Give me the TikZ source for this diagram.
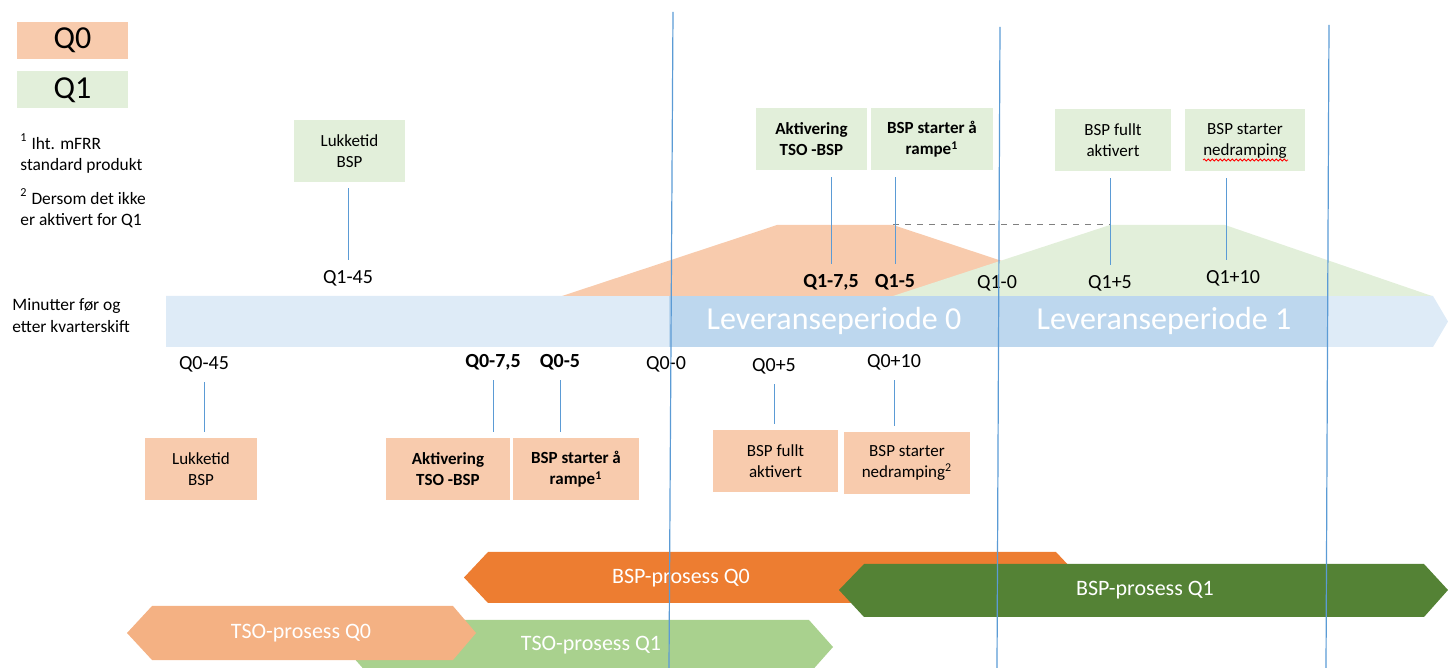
\documentclass[tikz,border=0pt]{standalone}
\usepackage{fontspec}
\setmainfont{Carlito}
\usepackage{tikz}
\usetikzlibrary{calc, decorations.pathmorphing}
\definecolor{qnull}{HTML}{F8CBAD}
\definecolor{qen}{HTML}{E2EFDA}
\definecolor{barlight}{HTML}{DEEBF7}
\definecolor{bardark}{HTML}{BDD7EE}
\definecolor{tickblue}{HTML}{5B9BD5}
\definecolor{bspnull}{HTML}{ED7D31}
\definecolor{bspen}{HTML}{548235}
\definecolor{tsonull}{HTML}{F4B183}
\definecolor{tsoen}{HTML}{A9D18E}

\begin{document}
\begin{tikzpicture}[x=0.5pt, y=-0.5pt,
    evt/.style={inner sep=0pt, align=center, minimum height=31pt,
        font=\fontsize{8.5}{10.5}\selectfont},
    evtnull/.style={evt, fill=qnull},
    evten/.style={evt, fill=qen},
    qlab/.style={inner sep=0pt, font=\fontsize{10}{12}\selectfont},
    note/.style={inner sep=0pt, align=left, anchor=west,
        font=\fontsize{8.7}{10.6}\selectfont},
    legend/.style={inner sep=0pt, minimum width=55.5pt, minimum height=18.5pt,
        font=\fontsize{16}{19}\selectfont},
    per/.style={inner sep=0pt, text=white, font=\fontsize{16}{19}\selectfont},
    proc/.style={inner sep=0pt, text=white, font=\fontsize{11}{13}\selectfont},
    tick/.style={draw=tickblue, line width=0.5pt, shorten <=5pt, shorten >=3pt},
    vline/.style={draw=tickblue, line width=0.6pt}]
    \useasboundingbox (0,0) rectangle (1448,668);

    \node[legend, fill=qnull] (legq0) at (72.5,40.5) {Q0};
    \node[legend, fill=qen] (legq1) at (72.5,90) {Q1};
    \node[note] (fn1) at (20,153.5) {\textsuperscript{1} Iht. mFRR\\standard produkt};
    \node[note] (fn2) at (20,208.5) {\textsuperscript{2} Dersom det ikke\\er aktivert for Q1};
    \node[note] (axis) at (12,315.5) {Minutter før og\\etter kvarterskift};

    \fill[barlight] (166,296) -- (1433,296) -- (1448,321.5) -- (1433,347) -- (166,347) -- cycle;
    \fill[bardark] (669,296) rectangle (1327,347);
    \node[per] (lp0) at (834,321) {Leveranseperiode 0};
    \node[per] (lp1) at (1164,321) {Leveranseperiode 1};

    \fill[qnull] (562,296) -- (777,225) -- (893,225) -- (1108,296) -- cycle;
    \fill[qen] (893,296) -- (1110,225) -- (1225,225) -- (1432,296) -- cycle;
    \draw[gray, dashed, line width=0.5pt] (893,225) -- (1110,225);

    \node[evten, minimum width=55.5pt] (luk1) at (349.5,151) {Lukketid\\BSP};
    \node[evten, minimum width=55.5pt, font=\fontsize{8.5}{10.5}\selectfont\bfseries] (akt1) at (811.5,139.5) {Aktivering\\TSO -BSP};
    \node[evten, minimum width=61pt, font=\fontsize{8.5}{10.5}\selectfont\bfseries] (ramp1) at (932,139.5) {BSP starter å\\rampe\textsuperscript{1}};
    \node[evten, minimum width=58pt] (full1) at (1113,140.5) {BSP fullt\\aktivert};
    \node[evten, minimum width=60pt] (ned1) at (1245,140.5) {BSP starter\\nedramping};
    \draw[red, line width=0.4pt, decorate, decoration={snake, amplitude=0.5pt, segment length=2pt}]
        ($(ned1.center)+(-42,19.5)$) -- ($(ned1.center)+(43,19.5)$);

    \node[qlab] (q1m45) at (348,278) {Q1-45};
    \node[qlab, font=\fontsize{10}{12}\selectfont\bfseries] (q1m75) at (831,282) {Q1-7,5};
    \node[qlab, font=\fontsize{10}{12}\selectfont\bfseries] (q1m5) at (895,282) {Q1-5};
    \node[qlab] (q1m0) at (997,283) {Q1-0};
    \node[qlab] (q1p5) at (1110,283) {Q1+5};
    \node[qlab] (q1p10) at (1233,278) {Q1+10};
    \draw[tick] (q1m45.north) -- (q1m45.north |- luk1.south);
    \draw[tick] (q1m75.north) -- (q1m75.north |- akt1.south);
    \draw[tick] (q1m5.north) -- (q1m5.north |- ramp1.south);
    \draw[tick] (q1p5.north) -- (q1p5.north |- full1.south);
    \draw[tick] ([xshift=-3.5pt]q1p10.north) -- ([xshift=-3.5pt]q1p10.north |- ned1.south);

    \node[qlab] (q0m45) at (204,364) {Q0-45};
    \node[qlab, font=\fontsize{10}{12}\selectfont\bfseries] (q0m75) at (493,362) {Q0-7,5};
    \node[qlab, font=\fontsize{10}{12}\selectfont\bfseries] (q0m5) at (560,362) {Q0-5};
    \node[qlab] (q0m0) at (666,364) {Q0-0};
    \node[qlab] (q0p5) at (774,366) {Q0+5};
    \node[qlab] (q0p10) at (894,362) {Q0+10};

    \node[evtnull, minimum width=56pt] (luk0) at (201,469.5) {Lukketid\\BSP};
    \node[evtnull, minimum width=62pt, font=\fontsize{8.5}{10.5}\selectfont\bfseries] (akt0) at (448,469) {Aktivering\\TSO -BSP};
    \node[evtnull, minimum width=63pt, font=\fontsize{8.5}{10.5}\selectfont\bfseries] (ramp0) at (576,469.5) {BSP starter å\\rampe\textsuperscript{1}};
    \node[evtnull, minimum width=62.5pt] (full0) at (775.5,461.5) {BSP fullt\\aktivert};
    \node[evtnull, minimum width=63pt] (ned0) at (907,463) {BSP starter\\nedramping\textsuperscript{2}};
    \draw[tick] (q0m45.south) -- (q0m45.south |- luk0.north);
    \draw[tick] (q0m75.south) -- (q0m75.south |- akt0.north);
    \draw[tick] (q0m5.south) -- (q0m5.south |- ramp0.north);
    \draw[tick] (q0p5.south) -- (q0p5.south |- full0.north);
    \draw[tick] (q0p10.south) -- (q0p10.south |- ned0.north);

    \fill[tsoen] (344,647) -- (368,620) -- (809,620) -- (833,647) -- (809,674) -- (368,674) -- cycle;
    \fill[tsonull] (127,633) -- (152,606) -- (453,606) -- (476,633) -- (453,660) -- (152,660) -- cycle;
    \fill[bspnull] (464,577.5) -- (488,552) -- (1056,552) -- (1080,577.5) -- (1056,603) -- (488,603) -- cycle;
    \fill[bspen] (839,590) -- (864,564) -- (1424,564) -- (1448,590) -- (1424,617) -- (864,617) -- cycle;
    \node[proc] (tso1) at (591,645) {TSO-prosess Q1};
    \node[proc] (tso0) at (301,633) {TSO-prosess Q0};
    \node[proc] (bsp0) at (681,578) {BSP-prosess Q0};
    \node[proc] (bsp1) at (1145,590) {BSP-prosess Q1};

    \draw[vline] (673,12) -- (669,668);
    \draw[vline] (1000,27) -- (997,668);
    \draw[vline] (1329,25) -- (1326,668);
\end{tikzpicture}
\end{document}
